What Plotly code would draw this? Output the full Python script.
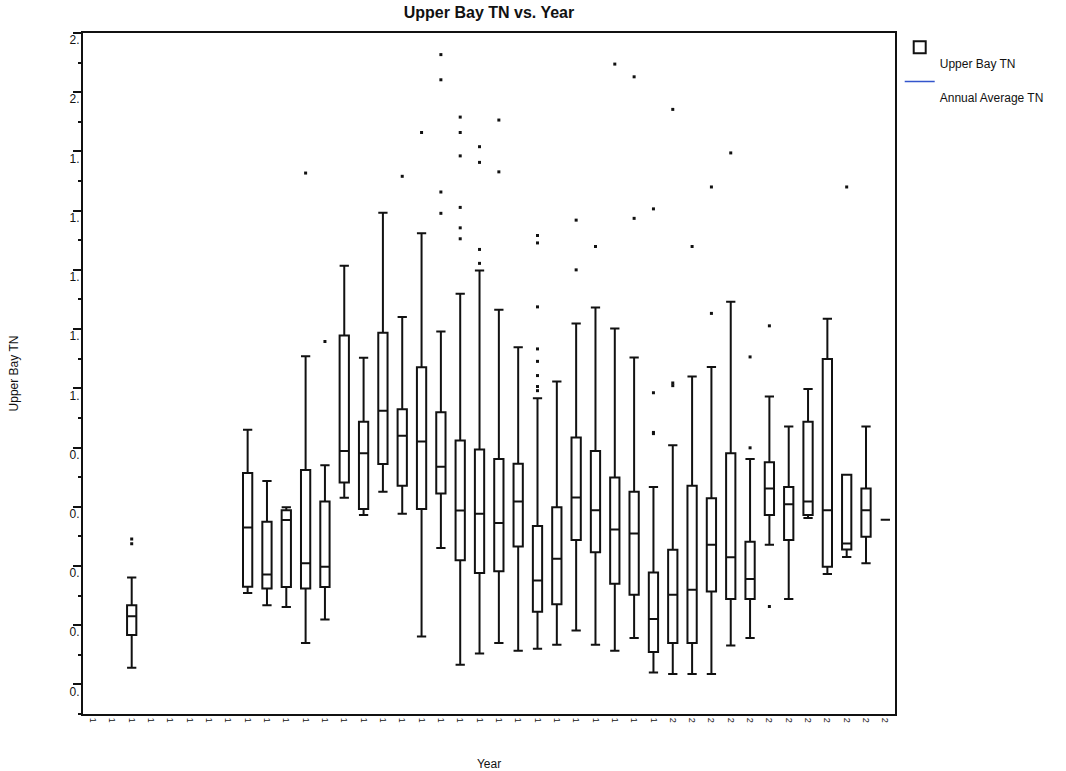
import plotly.graph_objects as go

# ---- data ----
years = [1972, 1978, 1979, 1980, 1981, 1982, 1983, 1984, 1985, 1986, 1987, 1988,
         1989, 1990, 1991, 1992, 1993, 1994, 1995, 1996, 1997, 1998, 1999, 2000,
         2001, 2002, 2003, 2004, 2005, 2006, 2007, 2008, 2009, 2010, 2011]
lower_fence = [0.156, 0.409, 0.367, 0.361, 0.240, 0.319, 0.730, 0.672, 0.751, 0.676, 0.262, 0.561,
               0.166, 0.204, 0.240, 0.214, 0.220, 0.234, 0.282, 0.234, 0.214, 0.257, 0.140, 0.135,
               0.135, 0.135, 0.231, 0.257, 0.572, 0.388, 0.662, 0.473, 0.530, 0.509, 0.656]
q1 = [0.267, 0.430, 0.424, 0.429, 0.424, 0.429, 0.782, 0.692, 0.844, 0.771, 0.692, 0.745,
      0.519, 0.476, 0.482, 0.566, 0.345, 0.371, 0.588, 0.546, 0.440, 0.403, 0.209, 0.240,
      0.240, 0.414, 0.388, 0.388, 0.672, 0.588, 0.672, 0.497, 0.556, 0.599, 0.656]
median = [0.330, 0.630, 0.471, 0.655, 0.509, 0.497, 0.888, 0.881, 1.024, 0.940, 0.920, 0.835,
          0.687, 0.676, 0.645, 0.718, 0.451, 0.524, 0.731, 0.688, 0.623, 0.610, 0.321, 0.403,
          0.420, 0.572, 0.529, 0.456, 0.762, 0.708, 0.718, 0.688, 0.576, 0.688, 0.656]
q3 = [0.367, 0.814, 0.649, 0.688, 0.824, 0.718, 1.278, 0.987, 1.288, 1.029, 1.171, 1.019,
      0.924, 0.893, 0.861, 0.845, 0.635, 0.698, 0.934, 0.888, 0.799, 0.751, 0.478, 0.555,
      0.771, 0.729, 0.881, 0.582, 0.850, 0.767, 0.987, 1.199, 0.808, 0.762, 0.656]
upper_fence = [0.461, 0.960, 0.787, 0.698, 1.208, 0.840, 1.514, 1.203, 1.693, 1.341, 1.624, 1.292,
               1.419, 1.498, 1.365, 1.239, 1.066, 1.123, 1.319, 1.373, 1.302, 1.204, 0.767, 0.908,
               1.140, 1.172, 1.392, 0.861, 1.072, 0.971, 1.098, 1.335, 0.808, 0.971, 0.656]

outlier_years = [1972, 1972, 1981, 1982, 1986, 1987,
                 1988, 1988, 1988, 1988,
                 1989, 1989, 1989, 1989, 1989, 1989,
                 1990, 1990, 1990, 1990,
                 1991, 1991,
                 1993, 1993, 1993, 1993, 1993, 1993, 1993, 1993,
                 1995, 1995, 1996, 1997, 1998, 1998,
                 1999, 1999, 1999, 1999,
                 2000, 2000, 2000, 2001, 2002, 2002, 2003,
                 2004, 2004, 2005, 2005, 2009]
outlier_values = [0.591, 0.575, 1.827, 1.258, 1.816, 1.964,
                  2.227, 2.142, 1.763, 1.691,
                  2.016, 1.964, 1.885, 1.711, 1.642, 1.605,
                  1.916, 1.863, 1.569, 1.522,
                  2.006, 1.831,
                  1.616, 1.591, 1.375, 1.233, 1.191, 1.143, 1.106, 1.092,
                  1.668, 1.500, 1.579, 2.195, 2.152, 1.674,
                  1.706, 1.085, 0.951, 0.947,
                  2.042, 1.118, 1.109, 1.579, 1.780, 1.353, 1.895,
                  0.899, 1.206, 0.363, 1.311, 1.780]

axis_years = list(range(1970, 2012))
axis_labels = [str(y)[0] for y in axis_years]
y_ticks = [0.1, 0.3, 0.5, 0.7, 0.9, 1.1, 1.3, 1.5, 1.7, 1.9, 2.1, 2.3]
y_labels = [f"{v:.1f}"[:2] for v in y_ticks]

FONT = "Liberation Sans, Arial, sans-serif"

fig = go.Figure()
fig.add_trace(go.Box(
    x=years, q1=q1, median=median, q3=q3,
    lowerfence=lower_fence, upperfence=upper_fence,
    name="<br>Upper Bay TN", boxpoints=False, legendgroup="a",
    width=0.48, whiskerwidth=1,
    line=dict(color="#111111", width=2), fillcolor="rgba(255,255,255,0)",
))
fig.add_trace(go.Scatter(
    x=[None], y=[None], mode="lines", name="<br>Annual Average TN", legendgroup="b",
    line=dict(color="#3355cc", width=1.5),
))
fig.add_trace(go.Scatter(
    x=outlier_years, y=outlier_values, mode="markers", showlegend=False,
    marker=dict(symbol="square", size=3, color="#111111"),
))

fig.update_layout(
    width=1066, height=771,
    margin=dict(l=83, r=171, t=33, b=57, autoexpand=False),
    plot_bgcolor="white", paper_bgcolor="white",
    font=dict(family=FONT, color="#111111"),
    title=dict(text="<b>Upper Bay TN vs. Year</b>", x=(83 + 895) / 2 / 1066, xanchor="center",
               y=1 - 12 / 771, yanchor="middle", font=dict(size=16, family=FONT)),
    showlegend=True,
    legend=dict(x=1.0058, y=1.0, xanchor="left", yanchor="top", bgcolor="rgba(0,0,0,0)",
                font=dict(size=12, family=FONT), tracegroupgap=0, itemwidth=30,
                valign="top"),
)
fig.update_xaxes(
    range=[1969.48, 2011.5], tickmode="array", tickvals=axis_years, ticktext=axis_labels,
    tickangle=90, tickfont=dict(size=9), ticks="", showgrid=False, zeroline=False,
    showline=True, linecolor="#111111", linewidth=2, mirror=True, automargin=False,
    title=dict(text="Year", font=dict(size=12), standoff=39),
)
fig.update_yaxes(
    range=[0, 2.3], tickmode="array", tickvals=y_ticks, ticktext=y_labels,
    ticks="outside", ticklen=8, tickwidth=1.5, tickcolor="#111111",
    tickfont=dict(size=12, color="#111111"),
    ticklabelstandoff=-9, ticklabelshift=7,
    minor=dict(ticks="outside", ticklen=3, tick0=0, dtick=0.2, tickcolor="#111111"),
    showgrid=False, zeroline=False, automargin=False,
    showline=True, linecolor="#111111", linewidth=2, mirror=True,
    title=dict(text="Upper Bay TN", font=dict(size=12), standoff=48),
)

fig.write_html("out.html", config={"displayModeBar": False},
               post_script="document.body.style.margin='0px';")
